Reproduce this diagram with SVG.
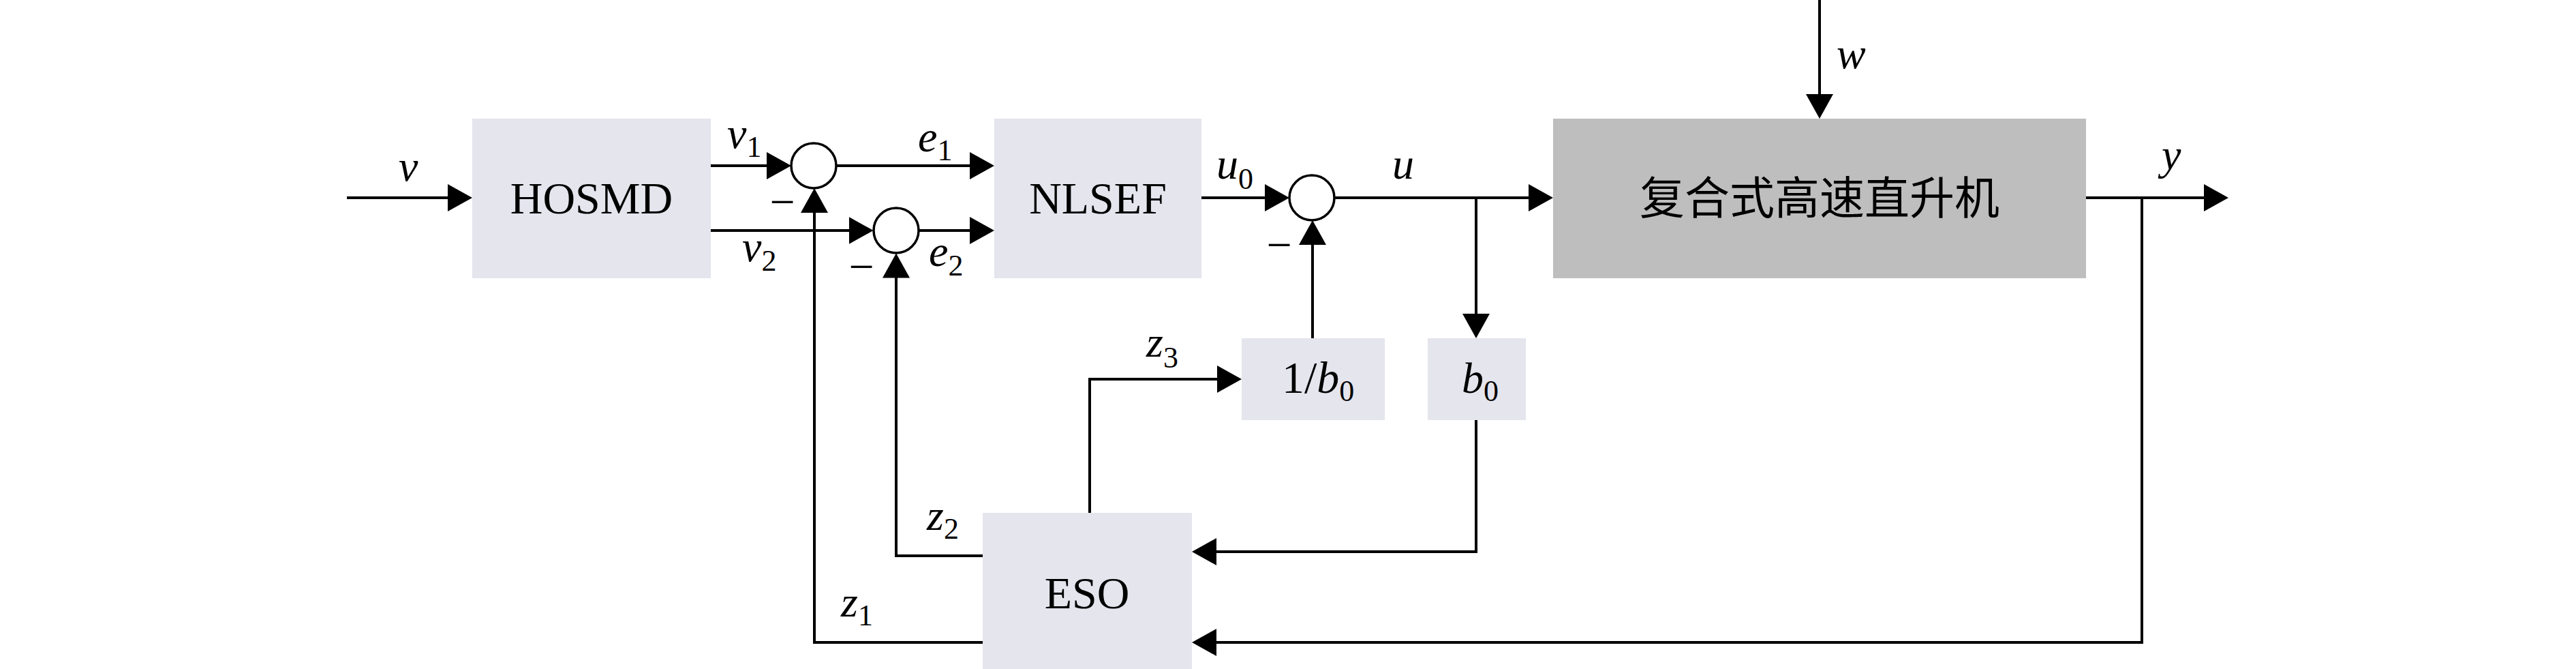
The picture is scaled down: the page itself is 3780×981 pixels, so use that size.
<svg xmlns="http://www.w3.org/2000/svg" width="3780" height="981" viewBox="0 0 3780 981">
<style>
.box{fill:#e4e5ed}
.plant{fill:#bebebe}
.sum{fill:#fff;stroke:#000;stroke-width:3.5}
.ln{fill:none;stroke:#000;stroke-width:4;stroke-linejoin:miter;marker-end:url(#ah)}
.ln0{fill:none;stroke:#000;stroke-width:4;stroke-linejoin:miter}
.t{font-family:"Liberation Serif","Times New Roman",serif;font-size:66px;fill:#000}
.i{font-family:"Liberation Serif","Times New Roman",serif;font-size:64px;font-style:italic;fill:#000}
.s{font-style:normal;font-size:44px}
.cjk{font-family:"Liberation Serif","Noto Sans CJK SC",sans-serif;font-size:66px;fill:#000}
</style>
<defs>
<marker id="ah" markerUnits="userSpaceOnUse" markerWidth="36" markerHeight="40" viewBox="0 0 36 40" refX="26" refY="20" orient="auto">
<path d="M0,0 L36,20 L0,40 Z" fill="#000"/>
</marker>
</defs>
<rect width="3780" height="981" fill="#fff"/>

<g id="connectors">
<path class="ln" d="M509,290 H683"/>
<path class="ln" d="M1043,243 H1151"/>
<path class="ln" d="M1043,338 H1271.5"/>
<path class="ln" d="M1227,243 H1449"/>
<path class="ln" d="M1348.5,338 H1449"/>
<path class="ln" d="M1763,290 H1882"/>
<path class="ln" d="M1958,290 H2269"/>
<path class="ln" d="M2166,290 V486"/>
<path class="ln" d="M2670,0 V164"/>
<path class="ln" d="M3061,290 H3260"/>
<path class="ln" d="M3143,290 V942 H1759"/>
<path class="ln" d="M1442,942 H1195 V286"/>
<path class="ln" d="M1442,815 H1315 V381.5"/>
<path class="ln" d="M1599,752 V556 H1812"/>
<path class="ln" d="M1926,496 V333"/>
<path class="ln" d="M2166,616 V809 H1759"/>
</g>

<g id="labels">
<text class="i" x="585" y="265">v</text>
<text class="i" x="1067" y="217">v<tspan class="s" dy="13">1</tspan></text>
<text class="i" x="1089" y="383">v<tspan class="s" dy="14">2</tspan></text>
<text class="i" x="1347" y="222">e<tspan class="s" dy="13">1</tspan></text>
<text class="i" x="1363" y="390">e<tspan class="s" dy="14">2</tspan></text>
<text class="i" x="1785" y="262">u<tspan class="s" dy="15">0</tspan></text>
<text class="i" x="2043" y="262">u</text>
<text class="i" x="2695" y="100">w</text>
<text class="i" x="3172" y="248">y</text>
<text class="i" x="1682" y="523">z<tspan class="s" dy="16">3</tspan></text>
<text class="i" x="1360" y="777">z<tspan class="s" dy="13">2</tspan></text>
<text class="i" x="1234" y="904">z<tspan class="s" dy="13">1</tspan></text>
<text class="t" x="1148" y="318" text-anchor="middle">−</text>
<text class="t" x="1264" y="413" text-anchor="middle">−</text>
<text class="t" x="1877" y="381" text-anchor="middle">−</text>
</g>

<g id="hosmd">
<rect class="box" x="693" y="174" width="350" height="234"/>
<text class="t" x="868" y="313" text-anchor="middle">HOSMD</text>
</g>

<g id="sum1"><circle class="sum" cx="1194" cy="243" r="33"/></g>
<g id="sum2"><circle class="sum" cx="1315" cy="338" r="33"/></g>

<g id="nlsef">
<rect class="box" x="1459" y="174" width="304" height="234"/>
<text class="t" x="1611" y="313" text-anchor="middle">NLSEF</text>
</g>

<g id="sum3"><circle class="sum" cx="1925" cy="290" r="33"/></g>

<g id="plant">
<rect class="plant" x="2279" y="174" width="782" height="234"/>
<text class="cjk" x="2670" y="314" text-anchor="middle">复合式高速直升机</text>
</g>

<g id="inv-b0">
<rect class="box" x="1822" y="496" width="210" height="120"/>
<text class="t" x="1881" y="576">1/<tspan font-style="italic">b</tspan><tspan class="s" dy="12">0</tspan></text>
</g>

<g id="b0">
<rect class="box" x="2095" y="496" width="144" height="120"/>
<text class="i" x="2145" y="576">b<tspan class="s" dy="12">0</tspan></text>
</g>

<g id="eso">
<rect class="box" x="1442" y="752" width="307" height="229"/>
<text class="t" x="1595" y="892" text-anchor="middle">ESO</text>
</g>
</svg>
